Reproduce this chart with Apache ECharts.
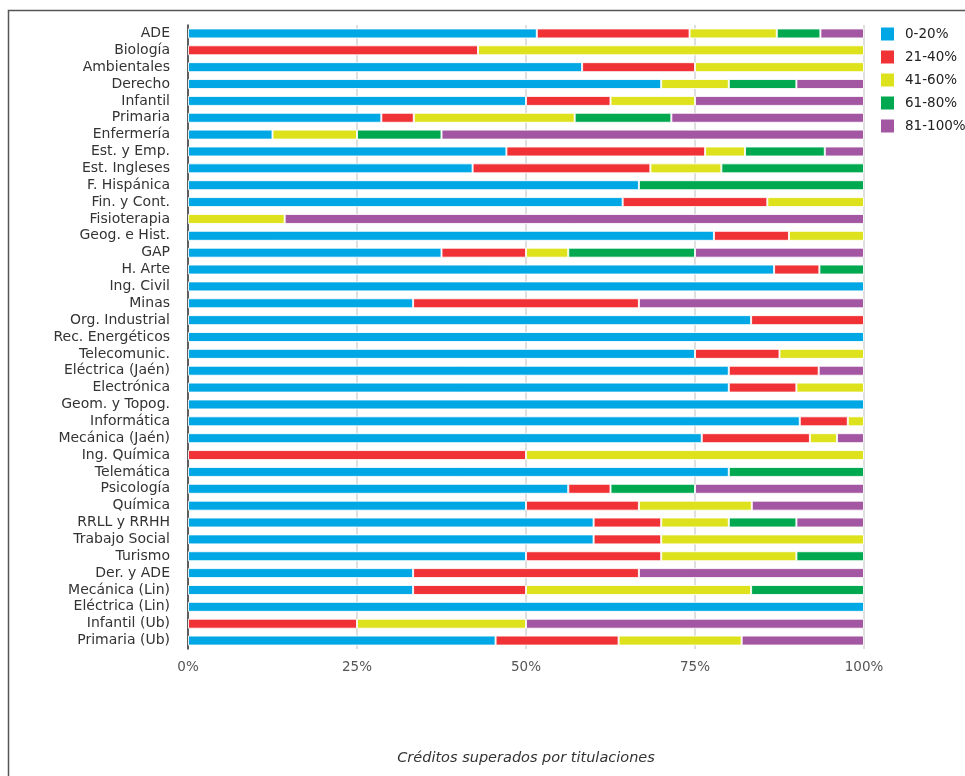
<!DOCTYPE html>
<html>
<head>
<meta charset="utf-8">
<script src="https://cdn.jsdelivr.net/npm/echarts@6/dist/echarts.min.js"></script>
<style>
html,body{margin:0;padding:0;background:#fff;}
#chart{width:965px;height:776px;}
</style>
</head>
<body>
<div id="chart"></div>
<script>
const categories = ['ADE','Biología','Ambientales','Derecho','Infantil','Primaria','Enfermería','Est. y Emp.','Est. Ingleses','F. Hispánica','Fin. y Cont.','Fisioterapia','Geog. e Hist.','GAP','H. Arte','Ing. Civil','Minas','Org. Industrial','Rec. Energéticos','Telecomunic.','Eléctrica (Jaén)','Electrónica','Geom. y Topog.','Informática','Mecánica (Jaén)','Ing. Química','Telemática','Psicología','Química','RRLL y RRHH','Trabajo Social','Turismo','Der. y ADE','Mecánica (Lin)','Eléctrica (Lin)','Infantil (Ub)','Primaria (Ub)'];

const seriesNames = ['0-20%','21-40%','41-60%','61-80%','81-100%'];

const s0_20   = [51.6,0,58.3,70,50,28.6,12.5,47.1,42.1,66.7,64.3,0,77.8,37.5,86.7,100,33.3,83.3,100,75,80,80,100,90.5,76,0,80,56.25,50,60,60,50,33.3,33.3,100,0,45.5];
const s21_40  = [22.6,42.9,16.7,0,12.5,4.8,0,29.4,26.3,0,21.4,0,11.1,12.5,6.7,0,33.4,16.7,0,12.5,13.3,10,0,7.1,16,50,0,6.25,16.7,10,10,20,33.4,16.7,0,25,18.2];
const s41_60  = [12.9,57.1,25,10,12.5,23.8,12.5,5.9,10.5,0,14.3,14.3,11.1,6.25,0,0,0,0,0,12.5,0,10,0,2.4,4,50,0,0,16.7,10,30,20,0,33.3,0,25,18.2];
const s61_80  = [6.45,0,0,10,0,14.3,12.5,11.8,21.1,33.3,0,0,0,18.75,6.6,0,0,0,0,0,0,0,0,0,0,0,20,12.5,0,10,0,10,0,16.7,0,0,0];
const s81_100 = [6.45,0,0,10,25,28.5,62.5,5.8,0,0,0,85.7,0,25,0,0,33.3,0,0,0,6.7,0,0,0,4,0,0,25,16.6,10,10,0,33.3,0,0,50,18.1];

const xTicks = [0,25,50,75,100];
const colors = ['#00a7e5','#f03236','#dde21c','#00a84f','#a356a1'];

const allSeries = [s0_20,s21_40,s41_60,s61_80,s81_100];

const chart = echarts.init(document.getElementById('chart'));
chart.setOption({
  animation:false,
  backgroundColor:'#fff',
  color:colors,
  graphic:[{
    type:'polyline',
    shape:{points:[[8.5,776],[8.5,10.5],[965,10.5]]},
    style:{stroke:'#555',lineWidth:1.5,fill:null}
  },{
    type:'text',
    style:{text:'Créditos superados por titulaciones',fontFamily:'DejaVu Sans',fontStyle:'italic',fontSize:14.5,fill:'#333',x:526,y:758,textAlign:'center',textVerticalAlign:'middle'}
  }],
  legend:{
    orient:'vertical',
    left:876,
    top:22,
    itemWidth:13,
    itemHeight:13,
    itemGap:9,
    icon:'rect',
    data:seriesNames,
    itemStyle:{borderWidth:0},
    textStyle:{fontFamily:'DejaVu Sans',fontSize:13.5,color:'#222',padding:[0,0,0,6]}
  },
  grid:{left:188,right:101,top:25,height:624,containLabel:false},
  xAxis:{
    type:'value',min:xTicks[0],max:xTicks[xTicks.length-1],interval:25,
    axisLine:{show:false},
    axisTick:{show:false},
    splitLine:{show:true,lineStyle:{color:'#d4d4d4',width:1.5}},
    axisLabel:{formatter:'{value}%',fontFamily:'DejaVu Sans',fontSize:13.5,color:'#555',margin:11}
  },
  yAxis:{
    type:'category',inverse:true,data:categories,
    axisLine:{show:true,lineStyle:{color:'#333',width:1.5}},
    axisTick:{show:false},
    axisLabel:{interval:0,fontFamily:'DejaVu Sans',fontSize:14,color:'#333',margin:18}
  },
  series: allSeries.map((arr,i)=>({
    name:seriesNames[i],
    type:'bar',
    stack:'total',
    barWidth:10,
    itemStyle:{color:colors[i],borderColor:'rgba(255,255,255,0.85)',borderWidth:1},
    data:arr.map(v=>v===0?null:v)
  }))
});
</script>
</body>
</html>
